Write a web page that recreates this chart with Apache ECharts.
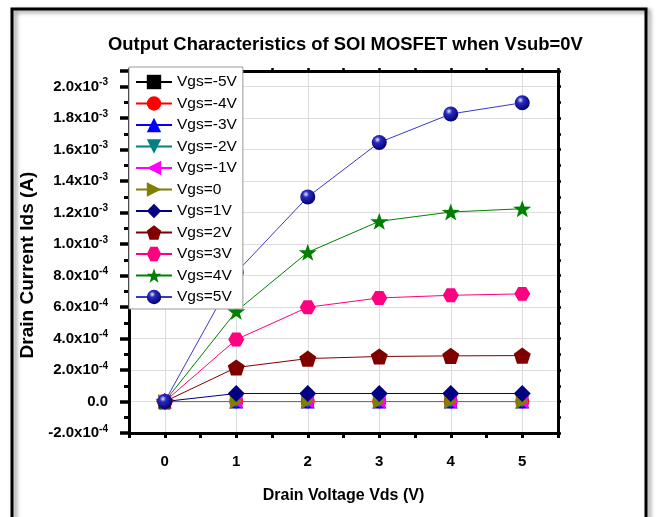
<!DOCTYPE html>
<html>
<head>
<meta charset="utf-8">
<script src="https://cdn.jsdelivr.net/npm/echarts@6/dist/echarts.min.js"></script>
<style>
  html, body { margin: 0; padding: 0; background: #fff; }
  #main { width: 657px; height: 517px; }
</style>
</head>
<body>
<div id="main"></div>
<script>
// drain voltage (V)
var vds = [0, 1, 2, 3, 4, 5];
var vdsLabels = ['0', '1', '2', '3', '4', '5'];

var seriesNames = ['Vgs=-5V', 'Vgs=-4V', 'Vgs=-3V', 'Vgs=-2V', 'Vgs=-1V', 'Vgs=0',
    'Vgs=1V', 'Vgs=2V', 'Vgs=3V', 'Vgs=4V', 'Vgs=5V'];

// drain current Ids (A), one array per gate voltage
var idsM5 = [0, 0, 0, 0, 0, 0];
var idsM4 = [0, 0, 0, 0, 0, 0];
var idsM3 = [0, 0, 0, 0, 0, 0];
var idsM2 = [0, 0, 0, 0, 0, 0];
var idsM1 = [0, 0, 0, 0, 0, 0];
var ids0 = [0, 0, 0, 0, 0, 0];
var idsP1 = [0, 5.1e-5, 5.1e-5, 5.1e-5, 5.1e-5, 5.1e-5];
var idsP2 = [0, 2.16e-4, 2.73e-4, 2.86e-4, 2.90e-4, 2.92e-4];
var idsP3 = [0, 3.94e-4, 5.99e-4, 6.58e-4, 6.75e-4, 6.84e-4];
var idsP4 = [0, 5.73e-4, 9.48e-4, 1.145e-3, 1.204e-3, 1.225e-3];
var idsP5 = [0, 8.2e-4, 1.30e-3, 1.646e-3, 1.827e-3, 1.898e-3];

var allIds = [idsM5, idsM4, idsM3, idsM2, idsM1, ids0, idsP1, idsP2, idsP3, idsP4, idsP5];

// marker shapes
var sphere = {
    type: 'radial', x: 0.38, y: 0.32, r: 0.7,
    colorStops: [
        {offset: 0, color: '#e8e8ff'},
        {offset: 0.3, color: '#2a2ac0'},
        {offset: 1, color: '#00006e'}
    ]
};
var styles = [
    {symbol: 'rect', size: 12, color: '#000000'},
    {symbol: 'circle', size: 14, color: '#ff0000'},
    {symbol: 'triangle', size: 14, color: '#0000ff'},
    {symbol: 'path://M0,0L20,0L10,17z', size: 14, color: '#008080'},
    {symbol: 'path://M0,10L17,0L17,20z', size: 14, color: '#ff00ff'},
    {symbol: 'path://M0,0L17,10L0,20z', size: 15, color: '#808000'},
    {symbol: 'diamond', size: 17, color: '#000080'},
    {symbol: 'path://M10,0L19.51,6.91L15.88,18.09L4.12,18.09L0.49,6.91Z', size: 17, color: '#800000'},
    {symbol: 'path://M0,10L5,1.34L15,1.34L20,10L15,18.66L5,18.66Z', size: 16, color: '#ff0080'},
    {symbol: 'path://M10,0L12.35,6.76L19.51,6.91L13.8,11.24L15.88,18.09L10,14L4.12,18.09L6.2,11.24L0.49,6.91L7.65,6.76Z', size: 18, color: '#008000'},
    {symbol: 'circle', size: 15, color: sphere, line: '#3a3ac8'}
];

function sciLabel(v) {
    if (Math.abs(v) < 1e-9) return '{m|0.0}';
    // hide the top edge (2.1e-3), only label every 2e-4
    var k = Math.round(v / 1e-4);
    if (k % 2 !== 0) return '';
    var exp = Math.floor(Math.log10(Math.abs(v)) + 1e-9);
    var mant = (v / Math.pow(10, exp)).toFixed(1);
    return '{m|' + mant + 'x10}{e|' + exp + '}';
}

var series = [];
for (var i = 0; i < seriesNames.length; i++) {
    var pts = [];
    for (var j = 0; j < vds.length; j++) {
        pts.push([vds[j], allIds[i][j]]);
    }
    var st = styles[i];
    series.push({
        name: seriesNames[i],
        type: 'line',
        data: pts,
        symbol: st.symbol,
        symbolSize: st.size,
        symbolKeepAspect: true,
        showAllSymbol: true,
        itemStyle: {color: st.color, opacity: 1},
        lineStyle: {color: st.line || st.color, width: 1},
        emphasis: {disabled: true},
        z: 3 + i
    });
}

var myChart = echarts.init(document.getElementById('main'));
myChart.setOption({
    backgroundColor: '#fff',
    animation: false,
    textStyle: {fontFamily: 'Liberation Sans, Arial, sans-serif', color: '#000'},
    title: {
        text: 'Output Characteristics of SOI MOSFET when Vsub=0V',
        left: 103,
        top: 31,
        textStyle: {fontSize: 18.4, fontWeight: 'bold', color: '#000'}
    },
    graphic: [{
        type: 'rect',
        shape: {x: 12, y: 9, width: 634, height: 530},
        style: {
            fill: 'none', stroke: '#000', lineWidth: 3,
            shadowBlur: 4, shadowColor: 'rgba(0,0,0,0.45)', shadowOffsetX: 3, shadowOffsetY: 2
        },
        z: 100
    }],
    legend: {
        data: seriesNames,
        orient: 'vertical',
        left: 129,
        top: 67,
        padding: [7, 6, 4, 6],
        itemWidth: 36,
        itemHeight: 18,
        itemGap: 5.5,
        backgroundColor: '#fff',
        borderColor: '#999',
        borderWidth: 1,
        borderRadius: 0,
        textStyle: {fontSize: 15.5, color: '#000'},
        z: 30
    },
    grid: {left: 129, right: 99, top: 71, bottom: 84},
    xAxis: [{
        type: 'value',
        min: -0.5,
        max: 5.5,
        interval: 0.5,
        position: 'bottom',
        name: 'Drain Voltage Vds (V)',
        nameLocation: 'middle',
        nameGap: 55,
        nameTextStyle: {fontSize: 16, fontWeight: 'bold', color: '#000'},
        axisLine: {onZero: false, lineStyle: {color: '#000', width: 3}},
        axisTick: {length: 5, lineStyle: {color: '#000', width: 3}},
        axisLabel: {
            margin: 21,
            fontSize: 15,
            fontWeight: 'bold',
            color: '#000',
            formatter: function (v) {
                return Math.abs(v - Math.round(v)) < 1e-6 ? String(Math.round(v)) : '';
            }
        },
        splitLine: {show: true, lineStyle: {color: ['rgba(0,0,0,0)', '#dcdcdc'], width: 1}}
    }, {
        // major ticks at whole volts
        type: 'category',
        data: vdsLabels,
        boundaryGap: true,
        position: 'bottom',
        axisLine: {show: false, onZero: false},
        axisTick: {alignWithLabel: true, length: 10, lineStyle: {color: '#000', width: 3.5}},
        axisLabel: {show: false},
        splitLine: {show: false}
    }, {
        type: 'value',
        min: -0.5,
        max: 5.5,
        interval: 0.5,
        position: 'top',
        axisLine: {onZero: false, lineStyle: {color: '#000', width: 3}},
        axisTick: {length: 3, lineStyle: {color: '#000', width: 2.5}},
        axisLabel: {show: false},
        splitLine: {show: false}
    }],
    yAxis: [{
        type: 'value',
        min: -2e-4,
        max: 2.1e-3,
        interval: 2e-4,
        position: 'left',
        name: 'Drain Current Ids (A)',
        nameLocation: 'middle',
        nameGap: 89,
        nameTextStyle: {fontSize: 19, fontWeight: 'bold', color: '#000', padding: [0, 26, 0, 0]},
        axisLine: {onZero: false, lineStyle: {color: '#000', width: 3}},
        axisTick: {length: 9, lineStyle: {color: '#000', width: 3.5}},
        minorTick: {show: true, splitNumber: 2, length: 5, lineStyle: {color: '#000', width: 3}},
        axisLabel: {
            margin: 21,
            formatter: sciLabel,
            rich: {
                m: {fontSize: 15, fontWeight: 'bold', color: '#000'},
                e: {fontSize: 10, fontWeight: 'bold', color: '#000', padding: [0, 0, 8, 0]}
            }
        },
        splitLine: {show: true, lineStyle: {color: '#dcdcdc', width: 1}}
    }, {
        type: 'value',
        min: -2e-4,
        max: 2.1e-3,
        interval: 2e-4,
        position: 'right',
        axisLine: {onZero: false, lineStyle: {color: '#000', width: 3}},
        axisTick: {length: 3, lineStyle: {color: '#000', width: 2.5}},
        minorTick: {show: true, splitNumber: 2, length: 3, lineStyle: {color: '#000', width: 2.5}},
        axisLabel: {show: false},
        splitLine: {show: false}
    }],
    series: series
});
</script>
</body>
</html>
